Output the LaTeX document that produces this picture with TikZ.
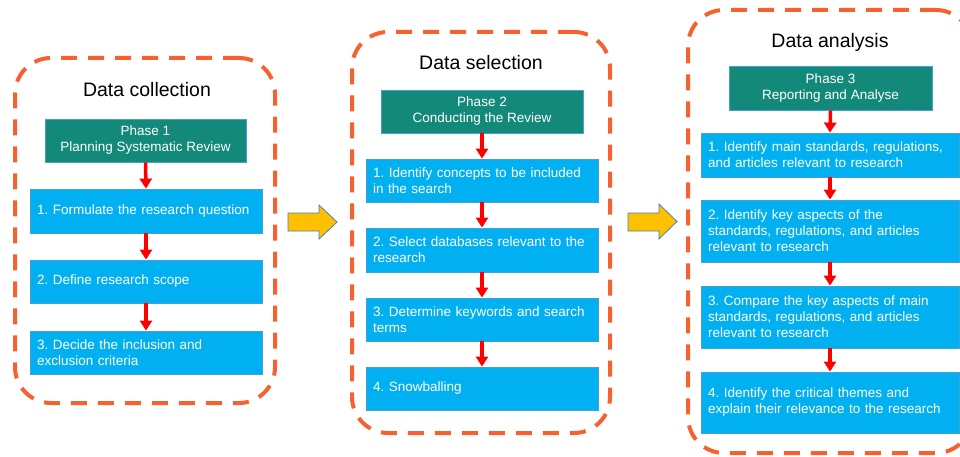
\documentclass[tikz,border=0pt]{standalone}
\usepackage{fontspec}
\setmainfont{Liberation Sans}
\usetikzlibrary{arrows.meta}
\frenchspacing

\definecolor{panelorange}{RGB}{245,98,48}
\definecolor{phaseteal}{RGB}{19,137,121}
\definecolor{stepblue}{RGB}{0,176,240}
\definecolor{edgeblue}{RGB}{70,160,215}
\definecolor{goldfill}{RGB}{255,192,0}
\definecolor{goldedge}{RGB}{65,130,185}

\tikzset{
  panel/.style={draw=panelorange, line width=4pt, dash pattern=on 16pt off 11pt,
    rounded corners=36pt, inner sep=0pt},
  paneltitle/.style={font=\fontsize{19.5}{23}\selectfont, text=black},
  phasebox/.style={draw=edgeblue, line width=0.8pt, fill=phaseteal, text=white,
    align=center, inner sep=0pt, font=\fontsize{13.5}{16}\selectfont},
  stepbox/.style={draw=edgeblue, line width=0.8pt, fill=stepblue, text=white,
    align=left, inner xsep=7pt, inner ysep=0pt, font=\fontsize{13.5}{16}\selectfont},
  flow/.style={draw=red, line width=3.5pt, -{Triangle[width=12pt,length=10pt]}},
  bigarrow/.style={fill=goldfill, draw=goldedge, line width=0.8pt},
}

\begin{document}
\begin{tikzpicture}[x=1pt, y=-1pt]
\useasboundingbox (0,0) rectangle (960,457);
\clip (0,0) rectangle (960,457);

% ---------- Data collection ----------
\node[panel, minimum width=260pt, minimum height=345pt] (panA) at (145,230.5) {};
\node[paneltitle] (titA) at (147,90) {Data collection};
\node[phasebox, minimum width=201pt, minimum height=43pt] (a0) at (145.5,140.5)
  {Phase 1\\Planning Systematic Review};
\node[stepbox, minimum width=232pt, text width=218pt, minimum height=44pt] (a1) at (146,211)
  {1. Formulate the research question};
\node[stepbox, minimum width=232pt, text width=218pt, minimum height=43pt] (a2) at (146,281.5)
  {2. Define research scope};
\node[stepbox, minimum width=232pt, text width=218pt, minimum height=43pt] (a3) at (146,352.5)
  {3. Decide the inclusion and\\exclusion criteria};
\draw[flow] (a0.south) -- (a1.north);
\draw[flow] (a1.south) -- (a2.north);
\draw[flow] (a2.south) -- (a3.north);

% ---------- Data selection ----------
\node[panel, minimum width=258pt, minimum height=401pt] (panB) at (481,232.5) {};
\node[paneltitle] (titB) at (481,63) {Data selection};
\node[phasebox, minimum width=202pt, minimum height=43pt] (b0) at (482,111.5)
  {Phase 2\\Conducting the Review};
\node[stepbox, minimum width=232pt, text width=218pt, minimum height=43pt] (b1) at (482,180.5)
  {1. Identify concepts to be included\\in the search};
\node[stepbox, minimum width=232pt, text width=218pt, minimum height=44pt] (b2) at (482,250)
  {2. Select databases relevant to the\\research};
\node[stepbox, minimum width=232pt, text width=218pt, minimum height=43pt] (b3) at (482,319.5)
  {3. Determine keywords and search\\terms};
\node[stepbox, minimum width=232pt, text width=218pt, minimum height=43pt] (b4) at (482,388.5)
  {4. Snowballing};
\draw[flow] (b0.south) -- (b1.north);
\draw[flow] (b1.south) -- (b2.north);
\draw[flow] (b2.south) -- (b3.north);
\draw[flow] (b3.south) -- (b4.north);

% ---------- Data analysis ----------
\node[panel, minimum width=284pt, minimum height=443pt] (panC) at (830,231.5) {};
\node[paneltitle] (titC) at (830,42) {Data analysis};
\node[phasebox, minimum width=203pt, minimum height=44pt] (c0) at (830.5,88)
  {Phase 3\\Reporting and Analyse};
\node[stepbox, minimum width=258pt, text width=244pt, minimum height=44pt] (c1) at (830,155)
  {1. Identify main standards, regulations,\\and articles relevant to research};
\node[stepbox, minimum width=258pt, text width=244pt, minimum height=62pt] (c2) at (830,231)
  {2. Identify key aspects of the\\standards, regulations, and articles\\relevant to research};
\node[stepbox, minimum width=258pt, text width=244pt, minimum height=62pt] (c3) at (830,317)
  {3. Compare the key aspects of main\\standards, regulations, and articles\\relevant to research};
\node[stepbox, minimum width=258pt, text width=244pt, minimum height=61pt] (c4) at (830,402.5)
  {4. Identify the critical themes and\\explain their relevance to the research};
\draw[flow] (c0.south) -- (c1.north);
\draw[flow] (c1.south) -- (c2.north);
\draw[flow] (c2.south) -- (c3.north);
\draw[flow] (c3.south) -- (c4.north);

% ---------- block arrows between the stages ----------
\draw[bigarrow] (288,213) -- (319,213) -- (319,205) -- (337,222) -- (319,239)
  -- (319,231) -- (288,231) -- cycle;
\draw[bigarrow] (628,213) -- (659,213) -- (659,204) -- (677,221.5) -- (659,239)
  -- (659,231) -- (628,231) -- cycle;
\end{tikzpicture}
\end{document}
